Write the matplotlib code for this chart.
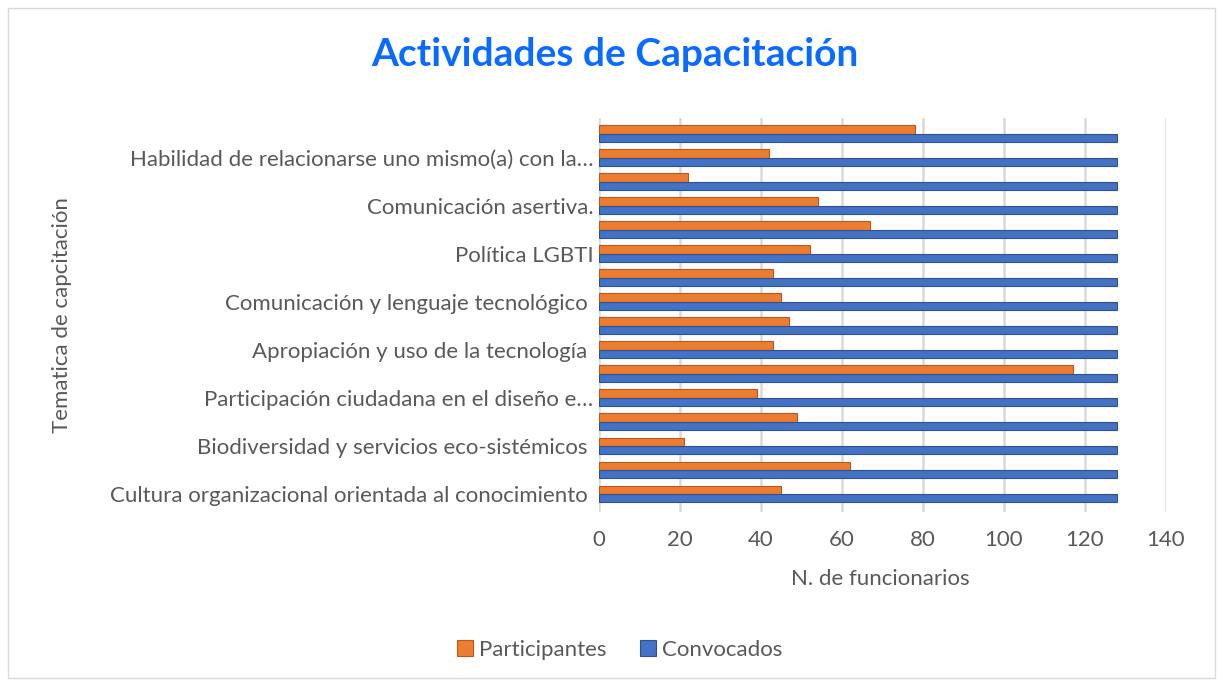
import matplotlib.pyplot as plt
from matplotlib.patches import Rectangle
import numpy as np

plt.rcParams['font.family'] = ['Lato', 'DejaVu Sans']

# -----------------------------
# Data (bottom row first)
# -----------------------------
categories = [
    "Cultura organizacional orientada al conocimiento ",
    "",
    "Biodiversidad y servicios eco-sistémicos ",
    "",
    "Participación ciudadana en el diseño e…",
    "",
    "Apropiación y uso de la tecnología ",
    "",
    "Comunicación y lenguaje tecnológico ",
    "",
    "Política LGBTI",
    "",
    "Comunicación asertiva.",
    "",
    "Habilidad de relacionarse uno mismo(a) con la…",
    "",
]
participantes = [45, 62, 21, 49, 39, 117, 43, 47, 45, 43, 52, 67, 54, 22, 42, 78]
convocados = [128] * 16
x_ticks = [0, 20, 40, 60, 80, 100, 120, 140]

orange = "#ED7D31"
blue = "#4472C4"
text_gray = "#595959"
fs = 16

W, H = 1223, 686
fig = plt.figure(figsize=(W / 100, H / 100), dpi=100)

# plot area
ax = fig.add_axes([599 / W, 1 - 512 / H, (1166 - 599) / W, (512 - 118) / H])
y = np.arange(len(categories))
h = 0.35
ax.barh(y + h / 2, participantes, height=h, color=orange,
        edgecolor="#B85A1E", linewidth=0.8, label="Participantes", zorder=3)
ax.barh(y - h / 2, convocados, height=h, color=blue,
        edgecolor="#2F528F", linewidth=0.8, label="Convocados", zorder=3)

ax.set_xlim(0, 140)
ax.set_ylim(-0.75, len(categories) - 0.35)
ax.set_xticks(x_ticks)
ax.set_xticklabels([str(t) for t in x_ticks], fontsize=fs, color=text_gray)
ax.tick_params(axis="x", length=0, pad=13)
ax.grid(axis="x", color="#D9D9D9", linewidth=1.8, zorder=0)

ax.set_yticks(y)
ax.set_yticklabels(categories, fontsize=fs, color=text_gray)
ax.tick_params(axis="y", length=0, pad=4)

for side in ax.spines:
    ax.spines[side].set_visible(False)

# titles
fig.text(615 / W, 1 - 55 / H, "Actividades de Capacitación", ha="center", va="center",
         fontsize=28, fontweight="bold", color="#0A6BFF")
fig.text(880 / W, 1 - 579 / H, "N. de funcionarios", ha="center", va="center",
         fontsize=fs, color=text_gray)
fig.text(62 / W, 1 - 315 / H, "Tematica de capcitación", ha="center", va="center",
         rotation=90, fontsize=fs, color=text_gray)

# legend
handles, labels = ax.get_legend_handles_labels()
fig.legend(handles, labels, loc="center", bbox_to_anchor=(620 / W, 1 - 650 / H),
           ncol=2, frameon=False, fontsize=fs, labelcolor=text_gray,
           handlelength=0.7, handleheight=0.7, handletextpad=0.3, columnspacing=1.5)

# outer frame
fig.patches.append(Rectangle((8 / W, 8 / H), 1 - 16 / W, 1 - 16 / H, transform=fig.transFigure,
                             fill=False, edgecolor="#D9D9D9", linewidth=1))

plt.savefig("out.png", dpi=100)
plt.close()
